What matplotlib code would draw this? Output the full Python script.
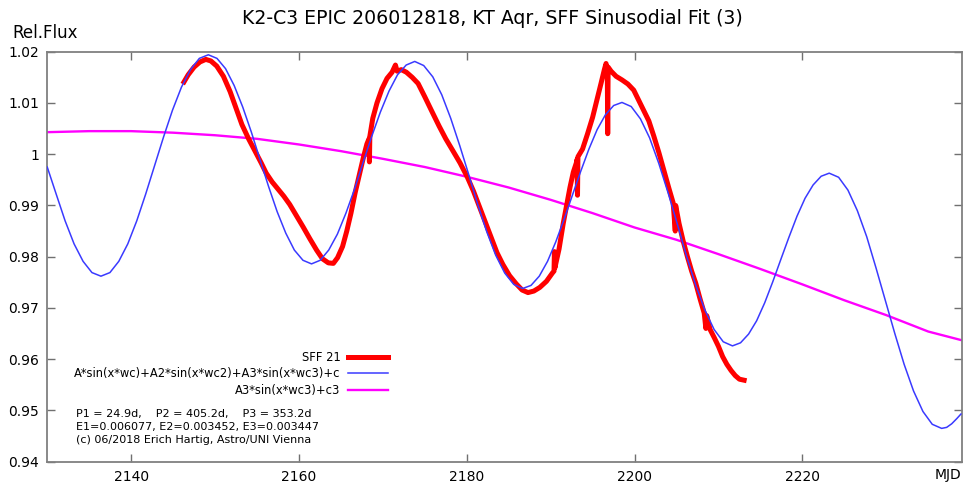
import matplotlib
matplotlib.use('Agg')
from matplotlib import pyplot as plt
from matplotlib.ticker import FuncFormatter, MultipleLocator

plt.rcParams['font.family'] = ['DejaVu Sans']

# SFF 21 light curve
sff_mjd = [2146.3, 2146.8, 2147.5, 2148.2, 2148.9, 2149.5, 2150.2, 2151.0, 2151.8, 2152.5,
           2153.2, 2154.0, 2154.8, 2155.5, 2156.1, 2156.8, 2157.5, 2158.2, 2158.9, 2159.7,
           2160.5, 2161.3, 2162.1, 2162.8, 2163.5, 2164.1, 2164.6, 2165.2, 2165.7, 2166.2,
           2166.7, 2167.2, 2167.7, 2168.1, 2168.35, 2168.4, 2168.45, 2168.8, 2169.3, 2169.9,
           2170.5, 2171.1, 2171.5, 2171.7, 2172.2, 2172.8, 2173.5, 2174.2, 2175.0, 2175.8,
           2176.7, 2177.5, 2178.3, 2179.2, 2180.05, 2180.8, 2181.5, 2182.2, 2182.9, 2183.6,
           2184.3, 2185.1, 2185.9, 2186.6, 2187.3, 2188.0, 2188.7, 2189.5, 2190.2, 2190.4,
           2190.45, 2190.5, 2191.0, 2191.5, 2191.9, 2192.3, 2192.7, 2193.1, 2193.15, 2193.2,
           2193.25, 2193.8, 2194.4, 2195.0, 2195.5, 2196.0, 2196.4, 2196.6, 2196.75, 2196.8,
           2196.85, 2197.2, 2197.8, 2198.5, 2199.2, 2199.9, 2200.5, 2201.1, 2201.7, 2202.3,
           2202.9, 2203.5, 2204.1, 2204.6, 2204.85, 2204.9, 2205.3, 2205.8, 2206.3, 2206.8,
           2207.3, 2207.8, 2208.3, 2208.5, 2208.6, 2209.0, 2209.5, 2210.0, 2210.5, 2211.0,
           2211.5, 2212.0, 2212.5, 2213.06]
sff_flux = [1.0141, 1.0155, 1.0170, 1.0180, 1.0185, 1.0182, 1.0172, 1.0152, 1.0122, 1.0090,
            1.0058, 1.0030, 1.0005, 0.9983, 0.9963, 0.9946, 0.9932, 0.9918, 0.9902, 0.9880,
            0.9858, 0.9835, 0.9813, 0.9796, 0.9788, 0.9787, 0.9798, 0.9820, 0.9850, 0.9885,
            0.9925, 0.9960, 0.9995, 1.0020, 1.0030, 0.9985, 1.0035, 1.0070, 1.0100, 1.0128,
            1.0148, 1.0160, 1.0174, 1.0162, 1.0165, 1.0160, 1.0150, 1.0138, 1.0112, 1.0085,
            1.0055, 1.0030, 1.0008, 0.9983, 0.9956, 0.9928, 0.9898, 0.9868, 0.9838, 0.9808,
            0.9785, 0.9763, 0.9747, 0.9735, 0.9730, 0.9733, 0.9740, 0.9752, 0.9768, 0.9772,
            0.9810, 0.9778, 0.9815, 0.9865, 0.9900, 0.9935, 0.9965, 0.9985, 0.9990, 0.9920,
            0.9995, 1.0010, 1.0040, 1.0072, 1.0105, 1.0138, 1.0165, 1.0177, 1.0165, 1.0040,
            1.0170, 1.0162, 1.0152, 1.0145, 1.0137, 1.0125, 1.0105, 1.0085, 1.0065, 1.0035,
            1.0003, 0.9968, 0.9933, 0.9905, 0.9850, 0.9900, 0.9865, 0.9830, 0.9800, 0.9772,
            0.9748, 0.9718, 0.9690, 0.9660, 0.9685, 0.9658, 0.9642, 0.9625, 0.9605, 0.9590,
            0.9578, 0.9568, 0.9561, 0.9559]

# three-sine fit curve
fit_mjd = [2130.0, 2131.07, 2132.13, 2133.2, 2134.27, 2135.33,
           2136.4, 2137.47, 2138.53, 2139.6, 2140.67, 2141.73, 2142.8, 2143.87, 2144.93,
           2146.0, 2147.07, 2148.13,
           2149.2, 2150.23, 2151.25, 2152.28, 2153.3, 2154.33, 2155.35, 2156.38, 2157.4,
           2158.43, 2159.45, 2160.48,
           2161.5, 2162.53, 2163.55, 2164.58, 2165.6, 2166.63, 2167.65, 2168.68, 2169.7,
           2170.73, 2171.75, 2172.78,
           2173.8, 2174.87, 2175.95, 2177.02, 2178.09, 2179.16, 2180.24, 2181.31, 2182.38,
           2183.45, 2184.53, 2185.6,
           2186.67, 2187.66, 2188.64, 2189.63, 2190.61, 2191.6, 2192.59, 2193.57, 2194.56,
           2195.54, 2196.53, 2197.51,
           2198.5, 2199.6, 2200.7, 2201.79, 2202.89, 2203.99, 2205.09, 2206.18, 2207.28,
           2208.38, 2209.48, 2210.57,
           2211.67, 2212.63, 2213.59, 2214.55, 2215.51, 2216.47, 2217.44, 2218.4, 2219.36,
           2220.32, 2221.28, 2222.24,
           2223.2, 2224.32, 2225.43, 2226.55, 2227.67, 2228.78, 2229.9, 2231.02, 2232.13,
           2233.25, 2234.37, 2235.48,
           2236.6, 2237.2, 2237.8, 2238.4, 2238.9]
fit_flux = [0.9975, 0.9922, 0.9870, 0.9825, 0.9791, 0.9769,
            0.9762, 0.9769, 0.9791, 0.9825, 0.9870, 0.9922, 0.9978, 1.0034, 1.0086,
            1.0131, 1.0165, 1.0187,
            1.0194, 1.0187, 1.0167, 1.0134, 1.0092, 1.0043, 0.9990, 0.9937, 0.9888,
            0.9846, 0.9813, 0.9793,
            0.9786, 0.9793, 0.9813, 0.9844, 0.9885, 0.9932, 0.9984, 1.0035, 1.0082,
            1.0123, 1.0155, 1.0174,
            1.0181, 1.0173, 1.0151, 1.0116, 1.0070, 1.0017, 0.9960, 0.9902, 0.9849,
            0.9803, 0.9768, 0.9746,
            0.9738, 0.9744, 0.9762, 0.9791, 0.9829, 0.9873, 0.9920, 0.9966, 1.0010,
            1.0048, 1.0077, 1.0095,
            1.0101, 1.0093, 1.0069, 1.0032, 0.9982, 0.9925, 0.9864, 0.9802, 0.9745,
            0.9696, 0.9658, 0.9634,
            0.9626, 0.9632, 0.9649, 0.9675, 0.9710, 0.9751, 0.9795, 0.9838, 0.9879,
            0.9914, 0.9940, 0.9957,
            0.9963, 0.9955, 0.9930, 0.9890, 0.9839, 0.9778, 0.9714, 0.9650, 0.9590,
            0.9538, 0.9498, 0.9473,
            0.9465, 0.9467, 0.9474, 0.9484, 0.9493]

# long-period component A3*sin(x*wc3)+c3
p3_mjd = [2130, 2135, 2140, 2145, 2150, 2155, 2160, 2165, 2170, 2175, 2180, 2185,
          2190, 2195, 2200, 2205, 2210, 2215, 2220, 2225, 2230, 2235, 2239]
p3_flux = [1.0043, 1.0045, 1.0045, 1.0042, 1.0037, 1.0030, 1.0019, 1.0006, 0.9991,
           0.9975, 0.9956, 0.9935, 0.9911, 0.9885, 0.9857, 0.9833, 0.9805, 0.9776,
           0.9746, 0.9715, 0.9686, 0.9654, 0.9637]

labels = ['SFF 21', 'A*sin(x*wc)+A2*sin(x*wc2)+A3*sin(x*wc3)+c', 'A3*sin(x*wc3)+c3']
info = ['P1 = 24.9d,    P2 = 405.2d,    P3 = 353.2d',
        'E1=0.006077, E2=0.003452, E3=0.003447',
        '(c) 06/2018 Erich Hartig, Astro/UNI Vienna']

fig = plt.figure(figsize=(9.64, 4.86), dpi=100)
ax = fig.add_axes([0.049, 0.05, 0.9487, 0.8436])

ax.plot(sff_mjd, sff_flux, color='#ff0000', lw=3.6, label=labels[0], zorder=2,
        solid_joinstyle='round')
ax.plot(fit_mjd, fit_flux, color='#3a3aff', lw=1.1, label=labels[1], zorder=3)
ax.plot(p3_mjd, p3_flux, color='#ff00ff', lw=1.7, label=labels[2], zorder=1)

ax.set_xlim(2130, 2239)
ax.set_ylim(0.94, 1.02)
ax.xaxis.set_major_locator(MultipleLocator(20))
ax.yaxis.set_major_locator(MultipleLocator(0.01))
ax.yaxis.set_major_formatter(FuncFormatter(lambda v, p: '%g' % round(v, 4)))
ax.tick_params(direction='in', top=True, right=True, length=6, width=1,
               color='#707070', labelsize=10, pad=6)
for s in ax.spines.values():
    s.set_color('#808080')
    s.set_linewidth(1.3)

leg = ax.legend(loc='upper right', bbox_to_anchor=(0.3726, 0.27), frameon=False,
                markerfirst=False, fontsize=8.3, handlelength=3.5, handletextpad=0.6,
                labelspacing=0.3, borderpad=0, borderaxespad=0)

for i, line in enumerate(info):
    ax.text(0.0314, 0.1163 - i * 0.0317, line, transform=ax.transAxes,
            fontsize=8, va='center', ha='left')

fig.text(492 / 964, 1 - 19 / 486, 'K2-C3 EPIC 206012818, KT Aqr, SFF Sinusodial Fit (3)',
         ha='center', va='center', fontsize=13.6)
fig.text(12 / 964, 1 - 33 / 486, 'Rel.Flux', ha='left', va='center', fontsize=12)
fig.text(948 / 964, 1 - 475 / 486, 'MJD', ha='center', va='center', fontsize=10)

fig.savefig('out.png', dpi=100)
